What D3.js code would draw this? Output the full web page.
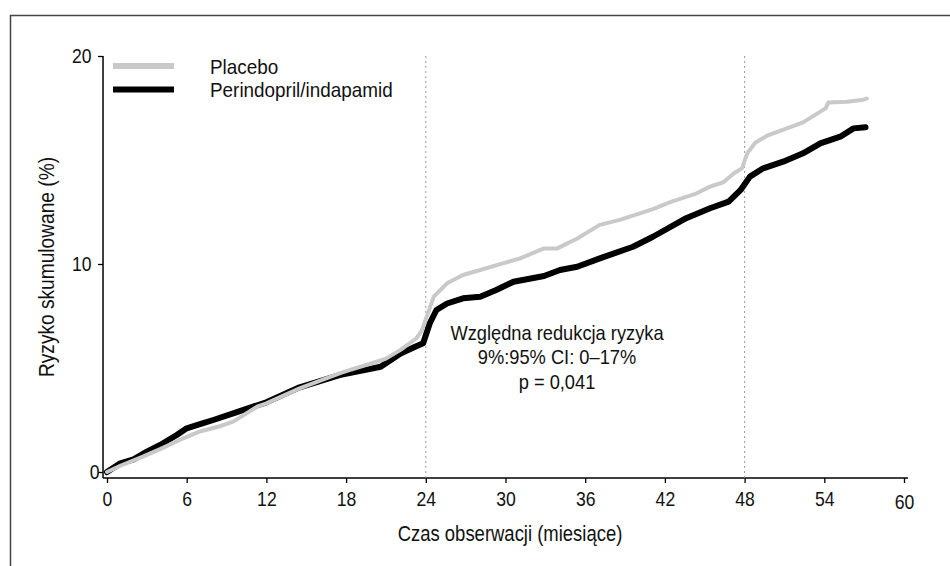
<!DOCTYPE html>
<html>
<head>
<meta charset="utf-8">
<script src="https://cdn.jsdelivr.net/npm/d3@7"></script>
<style>
  body { margin: 0; background: #fff; }
  svg text { font-family: "Liberation Sans", Arial, sans-serif; fill: #111; }
</style>
</head>
<body>
<div id="chart"></div>
<script>
// months of follow-up and cumulative risk (%)
const placeboMonths = [0, 1, 2.7, 4, 5.75, 7, 8.5, 9.5, 11.3, 12, 14.5, 17.5, 18, 20.3, 21, 22.1, 23.3, 23.7, 24.07, 24.6, 25.6, 26.8, 28.1, 29.8, 31.1, 32.9, 33.9, 35.4, 37.1, 38.6, 41.1, 42.4, 44.4, 45.4, 46.4, 47.2, 47.8, 48.2, 48.8, 49.7, 52.4, 54.1, 54.3, 55.7, 56.8, 57.2];
const placeboRisk   = [0, 0.3, 0.74, 1.1, 1.62, 1.95, 2.2, 2.42, 3.14, 3.3, 4.02, 4.74, 4.85, 5.3, 5.45, 5.87, 6.43, 6.8, 7.47, 8.43, 9.07, 9.47, 9.71, 10.03, 10.27, 10.75, 10.75, 11.23, 11.88, 12.12, 12.64, 12.97, 13.4, 13.72, 13.93, 14.36, 14.6, 15.32, 15.83, 16.17, 16.81, 17.48, 17.76, 17.8, 17.88, 17.95];

const perMonths = [0, 1, 2, 3, 4, 5.25, 6, 7, 8, 9.5, 11, 12, 14.5, 17.5, 19, 20.6, 22.1, 23.2, 23.8, 24.3, 24.8, 25.6, 26.8, 28.1, 29.3, 30.6, 32.9, 34.1, 35.4, 37.1, 39.6, 41.1, 43.6, 45.4, 46.8, 47.7, 48.4, 49.4, 50.9, 52.4, 53.7, 55.2, 56.2, 57.1];
const perRisk   = [0, 0.42, 0.61, 0.98, 1.3, 1.78, 2.1, 2.3, 2.5, 2.82, 3.14, 3.35, 4.07, 4.66, 4.85, 5.06, 5.7, 6.02, 6.19, 7.15, 7.79, 8.1, 8.35, 8.43, 8.75, 9.15, 9.42, 9.71, 9.87, 10.27, 10.83, 11.31, 12.2, 12.68, 13.0, 13.56, 14.2, 14.6, 14.92, 15.32, 15.8, 16.12, 16.52, 16.57];

const xTicks = [0, 6, 12, 18, 24, 30, 36, 42, 48, 54, 60];
const yTicks = [0, 10, 20];
const markerMonths = [24, 48];
const seriesNames = ["Placebo", "Perindopril/indapamid"];
const noteLines = ["Względna redukcja ryzyka", "9%:95% CI: 0–17%", "p = 0,041"];

const width = 950, height = 566;
// no condensed face installed, so squeeze a regular one
const narrow = s => "scale(" + s + ",1)";

const svg = d3.select("#chart").append("svg")
  .attr("width", width)
  .attr("height", height);

// outer frame (open to the right and bottom)
svg.append("path")
  .attr("d", "M10.5," + height + " V15.5 H" + width)
  .attr("fill", "none")
  .attr("stroke", "#444")
  .attr("stroke-width", 1.5);

const x = d3.scaleLinear().domain([0, 60]).range([107, 904]);
const y = d3.scaleLinear().domain([0, 20]).range([472, 56]);
const axisY = 478;

// axis lines
svg.append("line")
  .attr("x1", x(-0.3)).attr("x2", x(60.3))
  .attr("y1", axisY).attr("y2", axisY)
  .attr("stroke", "#000").attr("stroke-width", 1.5);
svg.append("line")
  .attr("x1", x(-0.3)).attr("x2", x(-0.3))
  .attr("y1", y(20)).attr("y2", axisY)
  .attr("stroke", "#000").attr("stroke-width", 1.5);

const xAxis = svg.append("g")
  .attr("transform", "translate(0," + axisY + ")")
  .call(d3.axisBottom(x).tickValues(xTicks).tickSize(5).tickPadding(9).tickSizeOuter(0));
xAxis.select(".domain").remove();
xAxis.selectAll("line").attr("stroke-width", 1.3);
xAxis.selectAll("text").style("font-size", "20px").attr("transform", narrow(0.88));
xAxis.selectAll(".tick").filter(d => d === 60).select("text").attr("y", 17);

const yAxis = svg.append("g")
  .attr("transform", "translate(" + x(-0.3) + ",0)")
  .call(d3.axisLeft(y).tickValues(yTicks).tickSize(5).tickPadding(8).tickSizeOuter(0));
yAxis.select(".domain").remove();
yAxis.selectAll("line").attr("stroke-width", 1.3);
yAxis.selectAll("text").style("font-size", "20px").attr("transform", narrow(0.88));
yAxis.selectAll(".tick").filter(d => d === 0).select("text").attr("x", -4);

// dotted markers at 24 and 48 months
svg.selectAll(".marker")
  .data(markerMonths)
  .enter()
  .append("line")
  .attr("x1", d => x(d)).attr("x2", d => x(d))
  .attr("y1", y(20)).attr("y2", axisY)
  .attr("stroke", "#999")
  .attr("stroke-width", 1)
  .attr("stroke-dasharray", "2,3");

const line = d3.line()
  .x(d => x(d[0]))
  .y(d => y(d[1]));

const placebo = d3.zip(placeboMonths, placeboRisk);
const per = d3.zip(perMonths, perRisk);

svg.append("path")
  .datum(per)
  .attr("d", line)
  .attr("fill", "none")
  .attr("stroke", "#000")
  .attr("stroke-width", 6)
  .attr("stroke-linejoin", "round")
  .attr("stroke-linecap", "round");

svg.append("path")
  .datum(placebo)
  .attr("d", line)
  .attr("fill", "none")
  .attr("stroke", "#c9c9c9")
  .attr("stroke-width", 4)
  .attr("stroke-linejoin", "round")
  .attr("stroke-linecap", "round");

// legend
const legendColors = ["#c9c9c9", "#000"];
const legend = svg.selectAll(".legend")
  .data(seriesNames)
  .enter()
  .append("g")
  .attr("transform", (d, i) => "translate(113," + (66 + i * 23.5) + ")");
legend.append("line")
  .attr("x1", 0).attr("x2", 61)
  .attr("stroke", (d, i) => legendColors[i])
  .attr("stroke-width", 6);
legend.append("g")
  .attr("transform", "translate(97,7.5) " + narrow(0.9))
  .append("text")
  .style("font-size", "21px")
  .text(d => d);

// annotation
svg.append("g")
  .attr("transform", "translate(557,340) " + narrow(0.87))
  .append("text")
  .attr("text-anchor", "middle")
  .style("font-size", "21px")
  .selectAll("tspan")
  .data(noteLines)
  .enter()
  .append("tspan")
  .attr("x", 0)
  .attr("y", (d, i) => i * 24.5)
  .text(d => d);

// axis titles
svg.append("g")
  .attr("transform", "translate(510,541) " + narrow(0.84))
  .append("text")
  .attr("text-anchor", "middle")
  .style("font-size", "22px")
  .text("Czas obserwacji (miesiące)");

svg.append("g")
  .attr("transform", "translate(54,267) rotate(-90) " + narrow(0.87))
  .append("text")
  .attr("text-anchor", "middle")
  .style("font-size", "22px")
  .text("Ryzyko skumulowane (%)");
</script>
</body>
</html>
